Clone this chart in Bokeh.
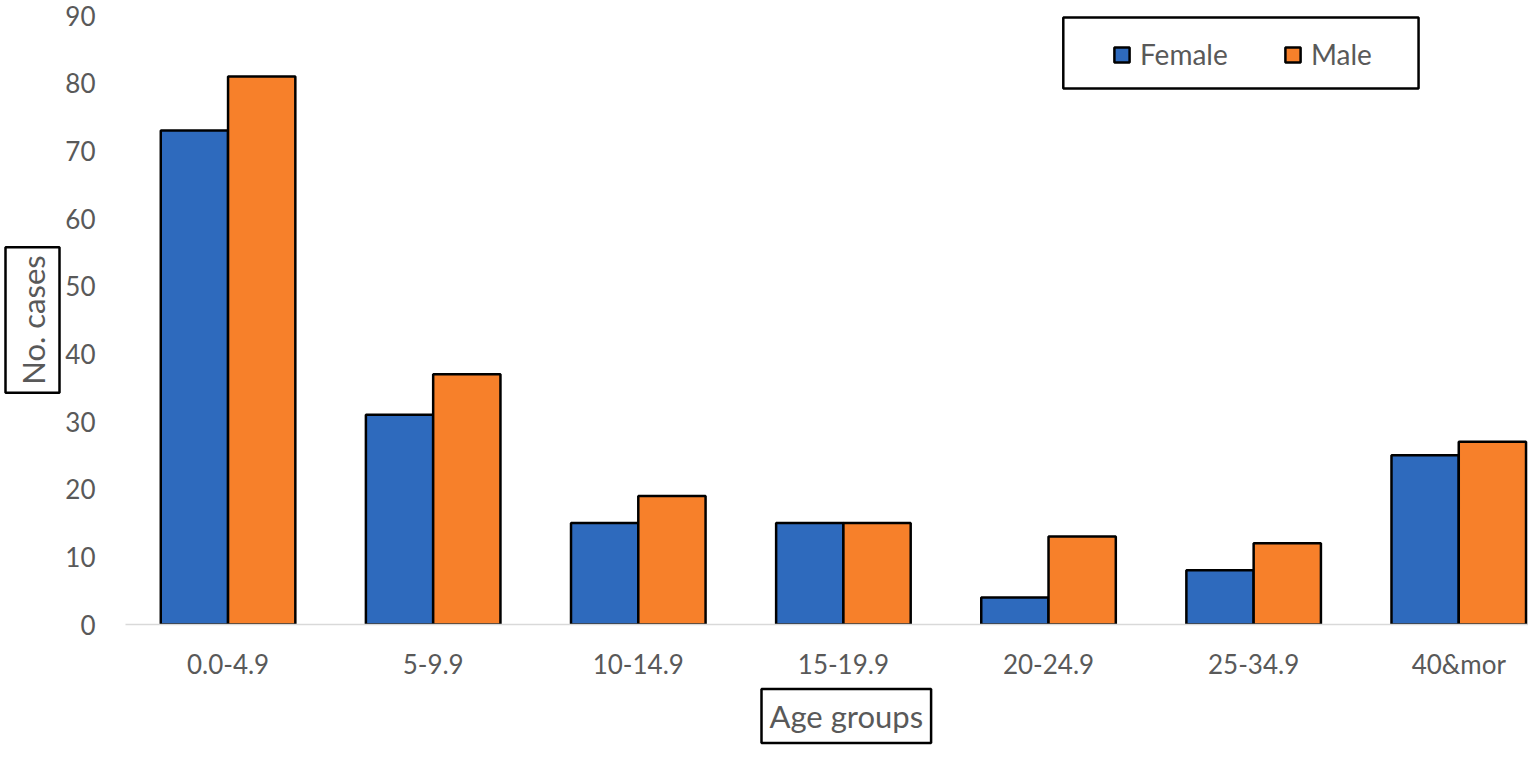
from bokeh.plotting import figure
from bokeh.models import (Range1d, FixedTicker, Legend, LegendItem, Title,
                          BoxAnnotation, ColumnDataSource)
from bokeh.transform import dodge
from bokeh.embed import file_html
from bokeh.resources import INLINE

# ---- data ----
age_groups = ["0.0-4.9", "5-9.9", "10-14.9", "15-19.9", "20-24.9", "25-34.9", "40&mor"]
female = [73, 31, 15, 15, 4, 8, 25]
male = [81, 37, 19, 15, 13, 12, 27]
y_ticks = [0, 10, 20, 30, 40, 50, 60, 70, 80, 90]
series_names = ["Female", "Male"]

FONT = "Lato"
GRAY = "#595959"
BLUE = "#2E6ABD"
ORANGE = "#F7802A"

pos = list(range(len(age_groups)))
src = ColumnDataSource(dict(pos=pos, female=female, male=male))

p = figure(width=1528, height=747, output_backend="svg", toolbar_location=None,
           x_range=Range1d(-0.5, 6.34), y_range=Range1d(0, 90),
           min_border_left=125, min_border_right=0, min_border_top=15,
           min_border_bottom=119)
p.outline_line_color = None
p.grid.visible = False

bar_w = 0.328
rf = p.vbar(x=dodge("pos", -bar_w / 2, range=p.x_range), top="female", width=bar_w,
            source=src, fill_color=BLUE, line_color="black", line_width=2.5)
rm = p.vbar(x=dodge("pos", bar_w / 2, range=p.x_range), top="male", width=bar_w,
            source=src, fill_color=ORANGE, line_color="black", line_width=2.5)

# x axis
xa = p.xaxis[0]
xa.ticker = FixedTicker(ticks=pos)
xa.major_label_overrides = {i: g for i, g in enumerate(age_groups)}
xa.major_tick_line_color = None
xa.minor_tick_line_color = None
xa.axis_line_color = "#D9D9D9"
xa.axis_line_width = 1.5
xa.major_label_text_font = FONT
xa.major_label_text_font_size = "26px"
xa.major_label_text_color = GRAY
xa.major_label_standoff = 17

# y axis
ya = p.yaxis[0]
ya.ticker = FixedTicker(ticks=y_ticks)
ya.axis_line_color = None
ya.major_tick_line_color = None
ya.minor_tick_line_color = None
ya.major_label_text_font = FONT
ya.major_label_text_font_size = "26px"
ya.major_label_text_color = GRAY
ya.major_label_standoff = 24

# legend
legend = Legend(items=[LegendItem(label=series_names[0], renderers=[rf]),
                       LegendItem(label=series_names[1], renderers=[rm])],
                orientation="horizontal", location=(987, 553), padding=0, margin=0,
                border_line_color=None, background_fill_alpha=0,
                glyph_width=19, glyph_height=19, label_standoff=9, spacing=52,
                label_width=91, label_text_font=FONT, label_text_font_size="28px",
                label_text_color=GRAY)
p.add_layout(legend)
p.add_layout(BoxAnnotation(left=4.072, right=5.804, bottom=79.2, top=89.7,
                           fill_color=None, line_color="black", line_alpha=1.0,
                           line_width=2.5))

# axis titles in boxes
t_x = Title(text="Age groups", align="left", offset=636, text_font=FONT,
            text_font_size="31px", text_font_style="normal", text_color=GRAY,
            border_line_color="black", border_line_width=2.5,
            background_fill_color="white", padding=8, standoff=9)
p.add_layout(t_x, "below")
t_y = Title(text="No. cases", align="center", text_font=FONT,
            text_font_size="31px", text_font_style="normal", text_color=GRAY,
            border_line_color="black", border_line_width=2.5,
            background_fill_color="white", padding=8, standoff=6)
p.add_layout(t_y, "left")

open("out.html", "w").write(file_html(p, INLINE))
